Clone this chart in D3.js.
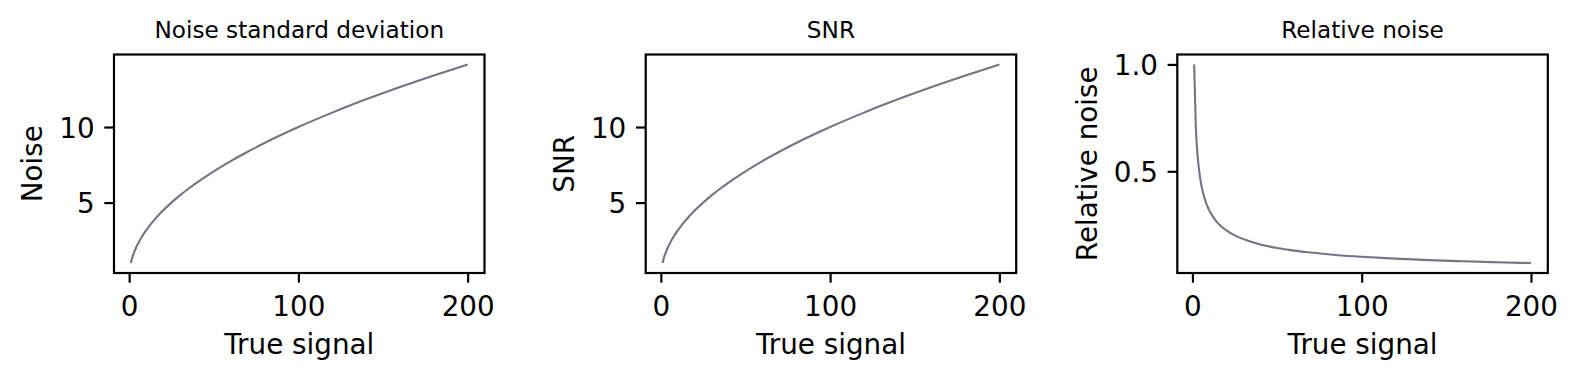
<!DOCTYPE html>
<html>
<head>
<meta charset="utf-8">
<script src="https://cdn.jsdelivr.net/npm/d3@7"></script>
<style>
  html, body { margin: 0; padding: 0; background: #fff; }
  svg { display: block; font-family: "DejaVu Sans", sans-serif; }
</style>
</head>
<body>
<svg id="chart" width="1579" height="380"></svg>
<script>
// ---- data ----
const trueSignal = [1, 2, 3, 4, 5, 6, 7, 8, 9, 10, 12, 14, 16, 18, 20, 25, 30, 35, 40, 50, 60, 70, 80, 90, 100, 120, 140, 160, 180, 200];
const noiseStd   = [1, 1.414, 1.732, 2, 2.236, 2.449, 2.646, 2.828, 3, 3.162, 3.464, 3.742, 4, 4.243, 4.472, 5, 5.477, 5.916, 6.325, 7.071, 7.746, 8.367, 8.944, 9.487, 10, 10.954, 11.832, 12.649, 13.416, 14.142];
const snrValues  = [1, 1.414, 1.732, 2, 2.236, 2.449, 2.646, 2.828, 3, 3.162, 3.464, 3.742, 4, 4.243, 4.472, 5, 5.477, 5.916, 6.325, 7.071, 7.746, 8.367, 8.944, 9.487, 10, 10.954, 11.832, 12.649, 13.416, 14.142];
const relNoise   = [1, 0.707, 0.577, 0.5, 0.447, 0.408, 0.378, 0.354, 0.333, 0.316, 0.289, 0.267, 0.25, 0.236, 0.224, 0.2, 0.183, 0.169, 0.158, 0.141, 0.129, 0.120, 0.112, 0.105, 0.1, 0.0913, 0.0845, 0.0791, 0.0745, 0.0707];
const panelTitles = ["Noise standard deviation", "SNR", "Relative noise"];
const yLabels = ["Noise", "SNR", "Relative noise"];
const xLabel = "True signal";
const xTicks = [0, 100, 200];
const yTicksList = [[5, 10], [5, 10], [0.5, 1.0]];
const yTickFormats = ["d", "d", ".1f"];

// ---- layout ----
const svg = d3.select("#chart");
const panelLefts = [114, 645.7, 1177.3];
const panelW = 370.5, plotTop = 54.5, plotBottom = 273;
const tickLen = 9.7, tickPad = 9.7;
const lineColor = "#767385";
const seriesList = [noiseStd, snrValues, relNoise];

function padded(ext) {
  const m = (ext[1] - ext[0]) * 0.05;
  return [ext[0] - m, ext[1] + m];
}

seriesList.forEach((vals, i) => {
  const left = panelLefts[i];
  const x = d3.scaleLinear().domain(padded(d3.extent(trueSignal))).range([left, left + panelW]);
  const y = d3.scaleLinear().domain(padded(d3.extent(vals))).range([plotBottom, plotTop]);
  const g = svg.append("g");

  const pts = trueSignal.map((s, k) => [s, vals[k]]);
  g.append("path")
    .attr("d", d3.line().x(d => x(d[0])).y(d => y(d[1])).curve(d3.curveMonotoneX)(pts))
    .attr("fill", "none").attr("stroke", lineColor).attr("stroke-width", 2.1);

  // x axis
  const xa = g.append("g").attr("transform", `translate(0,${plotBottom})`)
    .call(d3.axisBottom(x).tickValues(xTicks).tickSize(tickLen).tickPadding(tickPad).tickFormat(d3.format("d")));
  xa.select(".domain").remove();
  xa.selectAll("line").attr("stroke", "#000").attr("stroke-width", 2.2);
  xa.selectAll("text").attr("font-size", 27.8).attr("fill", "#000")
    .attr("font-family", "DejaVu Sans").attr("dy", null).attr("y", 316 - plotBottom);

  // y axis
  const ya = g.append("g").attr("transform", `translate(${left},0)`)
    .call(d3.axisLeft(y).tickValues(yTicksList[i]).tickSize(tickLen).tickPadding(tickPad).tickFormat(d3.format(yTickFormats[i])));
  ya.select(".domain").remove();
  ya.selectAll("line").attr("stroke", "#000").attr("stroke-width", 2.2);
  ya.selectAll("text").attr("font-size", 27.8).attr("fill", "#000")
    .attr("font-family", "DejaVu Sans").attr("dy", "0.36em");

  // frame
  g.append("rect").attr("x", left).attr("y", plotTop).attr("width", panelW).attr("height", plotBottom - plotTop)
    .attr("fill", "none").attr("stroke", "#000").attr("stroke-width", 2.2);

  // title
  g.append("text").attr("x", left + panelW / 2).attr("y", 38).attr("text-anchor", "middle")
    .attr("font-size", 23.2).attr("fill", "#000").text(panelTitles[i]);

  // x label
  g.append("text").attr("x", left + panelW / 2).attr("y", 353.5).attr("text-anchor", "middle")
    .attr("font-size", 27.8).attr("fill", "#000").text(xLabel);

  // y label, placed left of tick labels
  let minLeft = Infinity;
  ya.selectAll("text").each(function () {
    const b = this.getBBox();
    minLeft = Math.min(minLeft, left + b.x);
  });
  const lx = minLeft - 17;
  const cy = (plotTop + plotBottom) / 2;
  g.append("text").attr("transform", `translate(${lx},${cy}) rotate(-90)`)
    .attr("text-anchor", "middle").attr("font-size", 27.8).attr("fill", "#000").text(yLabels[i]);
});
</script>
</body>
</html>
